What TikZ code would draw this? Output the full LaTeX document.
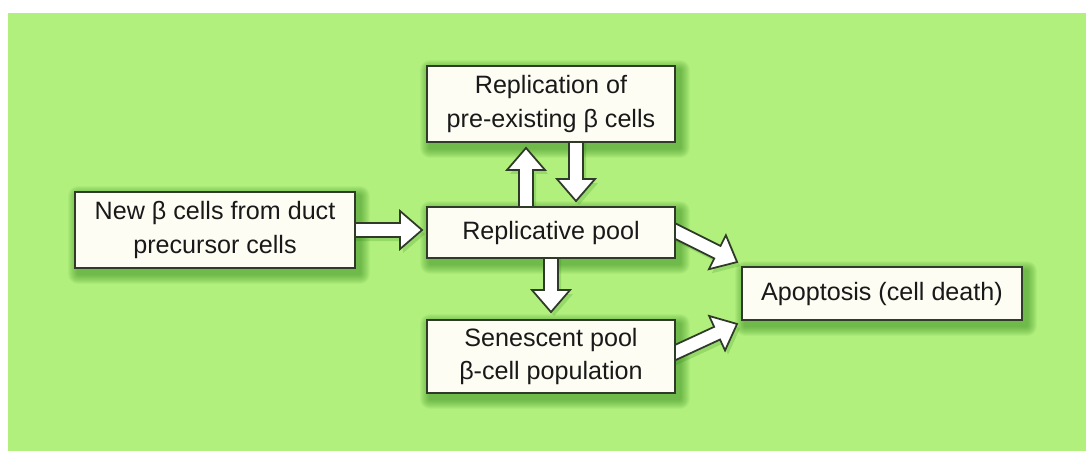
\documentclass[tikz,border=0pt]{standalone}
\usepackage{fontspec}
\setmainfont{Liberation Sans}
\usetikzlibrary{calc}
\pgfdeclarelayer{bg}
\pgfdeclarelayer{arrowlayer}
\pgfsetlayers{bg,arrowlayer,main}
\definecolor{bggreen}{RGB}{178,240,126}
\definecolor{boxfill}{RGB}{253,253,243}
\definecolor{edgecol}{RGB}{48,58,40}
\definecolor{shadowgreen}{RGB}{40,130,20}
\newcommand\fatarrow[2]{%
  \coordinate (fa-s) at (#1);
  \coordinate (fa-t) at (#2);
  \coordinate (fa-h) at ($(fa-t)!0.44cm!(fa-s)$);
  \begin{pgfonlayer}{bg}
  \foreach \i in {2,4,6}{
    \fill[shadowgreen, opacity=0.07, line join=round] ($(fa-s)!0.14cm!90:(fa-t)+(3,4)$) -- ($(fa-h)!0.14cm!90:(fa-t)+(3,4)$) -- ($(fa-h)!0.38cm!90:(fa-t)+(3,4)$) -- ($(fa-t)+(3,4)$) -- ($(fa-h)!0.38cm!-90:(fa-t)+(3,4)$) -- ($(fa-h)!0.14cm!-90:(fa-t)+(3,4)$) -- ($(fa-s)!0.14cm!-90:(fa-t)+(3,4)$) -- cycle;
  }
  \end{pgfonlayer}
  \begin{pgfonlayer}{arrowlayer}
  \filldraw[fatarr] ($(fa-s)!0.14cm!90:(fa-t)$) -- ($(fa-h)!0.14cm!90:(fa-t)$) -- ($(fa-h)!0.38cm!90:(fa-t)$) -- (fa-t) -- ($(fa-h)!0.38cm!-90:(fa-t)$) -- ($(fa-h)!0.14cm!-90:(fa-t)$) -- ($(fa-s)!0.14cm!-90:(fa-t)$);
  \end{pgfonlayer}}
\begin{document}
\begin{tikzpicture}[x=0.02cm,y=-0.02cm,
  box/.style={draw=edgecol, line width=1.1pt, fill=boxfill, align=center, inner sep=0pt, text=black!90, font=\fontsize{14.3}{18.8}\selectfont},
  fatarr/.style={fill=white, draw=edgecol, line width=1pt, line join=miter}]
\useasboundingbox (0,0) rectangle (1086,451);
\begin{pgfonlayer}{bg}
\fill[bggreen] (8,13) rectangle (1086,451);
\end{pgfonlayer}
\node[box, minimum width=5.6cm, minimum height=1.52cm] (new) at (215,230) {New β cells from duct\\precursor cells};
\node[box, minimum width=4.96cm, minimum height=1.52cm] (repl) at (551,104) {Replication of\\pre-existing β cells};
\node[box, minimum width=4.96cm, minimum height=1.02cm] (rp) at (551,232.5) {Replicative pool};
\node[box, minimum width=4.96cm, minimum height=1.46cm] (sen) at (551,356.5) {Senescent pool\\β-cell population};
\node[box, minimum width=5.6cm, minimum height=1.06cm] (apo) at (882,293.5) {Apoptosis (cell death)};
\begin{pgfonlayer}{bg}
\foreach \n in {new,repl,rp,sen,apo}{
  \foreach \i in {1,...,10}{
    \fill[shadowgreen, opacity=0.06, rounded corners=\i*0.02cm] ($(\n.south west)+(4-\i,5+\i)$) rectangle ($(\n.north east)+(4+\i,5-\i)$);
  }
}
\end{pgfonlayer}
\fatarrow{new.center}{$(rp.west |- new.center)+(-4,0)$}
\fatarrow{$(rp.center)+(-25,0)$}{$(repl.south)+(-25,5)$}
\fatarrow{$(repl.center)+(25,0)$}{$(rp.north)+(25,-5)$}
\fatarrow{rp.center}{$(sen.north)+(0,-7)$}
\fatarrow{$(rp.east)+(-18,-10)$}{$(apo.north west)+(-4,-4)$}
\fatarrow{$(sen.east)+(-18,4)$}{$(apo.south west)+(-4,3)$}
\end{tikzpicture}
\end{document}
